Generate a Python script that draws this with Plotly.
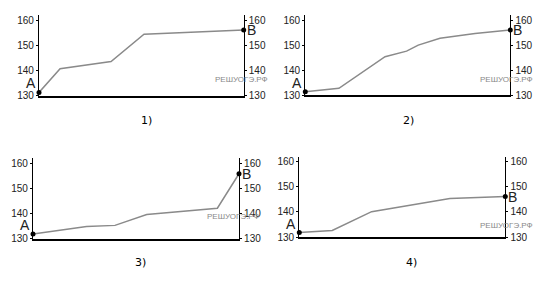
import plotly.graph_objects as go

W, H = 555, 294

# ---- data (x = share of the way from A to B) ----
panel_labels = ["1)", "2)", "3)", "4)"]
y_ticks = [130, 140, 150, 160]

x1 = [0.0, 0.103, 0.352, 0.513, 1.0]
y1 = [131.4, 140.8, 143.7, 154.5, 156.2]

x2 = [0.0, 0.164, 0.389, 0.494, 0.551, 0.657, 0.828, 1.0]
y2 = [131.4, 132.8, 145.4, 147.6, 150.0, 152.7, 154.6, 156.0]

x3 = [0.0, 0.26, 0.398, 0.552, 0.895, 1.0]
y3 = [131.9, 134.9, 135.3, 139.6, 142.1, 155.8]

x4 = [0.0, 0.16, 0.351, 0.561, 0.731, 1.0]
y4 = [131.8, 132.6, 140.1, 143.1, 145.3, 146.1]

series = [(x1, y1), (x2, y2), (x3, y3), (x4, y4)]

# ---- layout geometry (pixels) ----
boxes = [
    (39.0, 243.7, 98.0, 15.7),
    (305.3, 510.3, 97.3, 15.3),
    (33.0, 239.0, 243.7, 161.4),
    (299.3, 505.3, 242.0, 159.8),
]
label_pos = [(146.7, 123.0), (408.3, 123.0), (140.0, 268.3), (411.7, 268.0)]
wm_pos = [(241.5, 81.0), (506.0, 81.0), (233.0, 221.0), (506.5, 230.0)]

def px(x):
    return x / W

def py(y):
    return 1 - y / H

tick_font = dict(family="Liberation Sans Narrow, Arial Narrow, Liberation Sans, Arial, sans-serif",
                 size=10, color="#222")

fig = go.Figure()
layout = dict(
    width=W, height=H, margin=dict(l=0, r=0, t=0, b=0),
    paper_bgcolor="white", plot_bgcolor="rgba(0,0,0,0)", showlegend=False,
)
annotations = []

for i, ((xs, ys), (l, r, b, t)) in enumerate(zip(series, boxes), start=1):
    xa = "x" if i == 1 else f"x{i}"
    ya = "y" if i == 1 else f"y{i}"
    yr = f"y{i + 4}"
    # invisible trace that carries the right-hand axis
    fig.add_trace(go.Scatter(x=xs, y=ys, xaxis=xa, yaxis=yr, mode="lines",
                             line=dict(color="rgba(0,0,0,0)", width=0), hoverinfo="skip"))
    fig.add_trace(go.Scatter(x=xs, y=ys, xaxis=xa, yaxis=ya, mode="lines",
                             line=dict(color="#8a8a8a", width=1.5), hoverinfo="skip"))
    fig.add_trace(go.Scatter(x=[xs[0], xs[-1]], y=[ys[0], ys[-1]], xaxis=xa, yaxis=ya,
                             mode="markers", marker=dict(color="black", size=5),
                             hoverinfo="skip", cliponaxis=False))
    xkey = "xaxis" if i == 1 else f"xaxis{i}"
    ykey = "yaxis" if i == 1 else f"yaxis{i}"
    layout[xkey] = dict(domain=[px(l), px(r)], range=[0, 1], anchor=ya,
                        showline=True, linecolor="black", linewidth=2,
                        showgrid=False, zeroline=False, showticklabels=False, ticks="")
    yax = dict(range=[130, 162], tickvals=y_ticks,
               showline=True, linecolor="black", linewidth=1.2,
               ticks="outside", ticklen=2, tickwidth=1, tickcolor="black",
               showgrid=False, zeroline=False, tickfont=tick_font)
    layout[ykey] = dict(yax, domain=[py(b), py(t)], anchor=xa, side="left")
    layout[f"yaxis{i + 4}"] = dict(yax, anchor=xa, side="right", overlaying=ya)

    annotations.append(dict(x=xs[0], y=ys[0], xref=xa, yref=ya, text="A", showarrow=False,
                            xanchor="right", yanchor="bottom", xshift=-1, yshift=-1,
                            font=dict(family="Liberation Sans, Arial, sans-serif", size=14, color="#222")))
    annotations.append(dict(x=xs[-1], y=ys[-1], xref=xa, yref=ya, text="B", showarrow=False,
                            xanchor="left", yanchor="middle", xshift=1,
                            font=dict(family="Liberation Sans, Arial, sans-serif", size=14, color="#222")))
    lx, ly = label_pos[i - 1]
    annotations.append(dict(x=px(lx), y=py(ly), xref="paper", yref="paper", text=panel_labels[i - 1],
                            showarrow=False, xanchor="center", yanchor="middle",
                            font=dict(family="DejaVu Sans, sans-serif", size=11, color="black")))
    wx, wy = wm_pos[i - 1]
    annotations.append(dict(x=px(wx), y=py(wy), xref="paper", yref="paper", text="РЕШУОГЭ.РФ",
                            showarrow=False, xanchor="center", yanchor="middle",
                            font=dict(family="Liberation Sans Narrow, Arial Narrow, Liberation Sans, sans-serif",
                                      size=8, color="#888")))

layout["annotations"] = annotations
fig.update_layout(**layout)
fig.write_html("out.html")
